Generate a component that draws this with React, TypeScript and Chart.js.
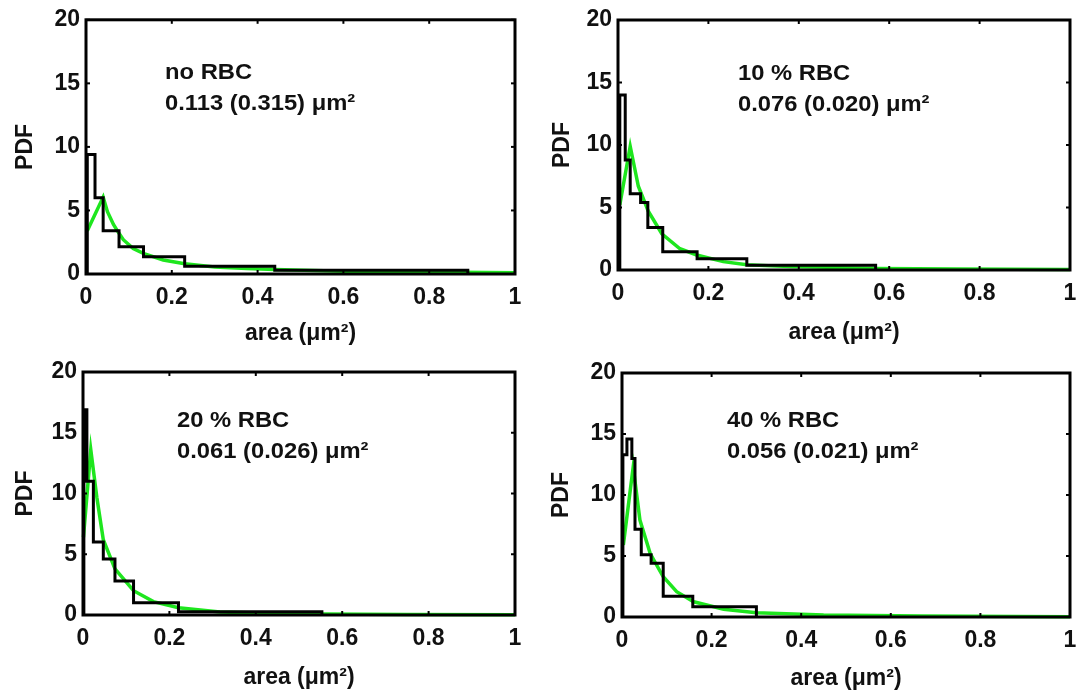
import React, { useEffect, useRef } from 'react';
import { Chart, registerables } from 'chart.js';

Chart.register(...registerables);

// ---------- data ----------
const X_TICKS = [0, 0.2, 0.4, 0.6, 0.8, 1];
const Y_TICKS = [0, 5, 10, 15, 20];

// no RBC
const P1_EDGES = [0.003, 0.021, 0.04, 0.077, 0.134, 0.23, 0.44, 0.89];
const P1_HEIGHTS = [9.4, 6.0, 3.4, 2.15, 1.35, 0.6, 0.3];
const P1_FIT_X = [0.003, 0.04, 0.05, 0.064, 0.075, 0.087, 0.11, 0.135, 0.18, 0.23, 0.3, 0.375, 0.44, 0.6, 0.74, 0.87, 1.0];
const P1_FIT_Y = [3.4, 6.05, 4.9, 3.9, 3.3, 2.7, 2.0, 1.6, 1.1, 0.8, 0.55, 0.43, 0.35, 0.22, 0.17, 0.13, 0.1];

// 10 % RBC
const P2_EDGES = [0.004, 0.016, 0.027, 0.05, 0.066, 0.099, 0.175, 0.285, 0.57];
const P2_HEIGHTS = [14.0, 8.8, 6.1, 5.4, 3.4, 1.47, 0.9, 0.38];
const P2_FIT_X = [0.004, 0.027, 0.045, 0.067, 0.097, 0.137, 0.174, 0.233, 0.285, 0.38, 0.57, 0.75, 1.0];
const P2_FIT_Y = [5.2, 9.9, 6.7, 4.7, 2.9, 1.7, 1.2, 0.67, 0.42, 0.27, 0.13, 0.08, 0.05];

// 20 % RBC
const P3_EDGES = [0.002, 0.009, 0.024, 0.047, 0.074, 0.117, 0.221, 0.553];
const P3_HEIGHTS = [16.9, 11.0, 6.0, 4.6, 2.8, 1.0, 0.27];
const P3_FIT_X = [0.001, 0.018, 0.032, 0.047, 0.074, 0.117, 0.163, 0.221, 0.317, 0.45, 0.553, 0.75, 1.0];
const P3_FIT_Y = [6.4, 13.6, 9.7, 6.2, 3.8, 2.0, 1.1, 0.6, 0.25, 0.12, 0.08, 0.04, 0.02];

// 40 % RBC
const P4_EDGES = [0.002, 0.011, 0.022, 0.029, 0.043, 0.065, 0.092, 0.158, 0.3];
const P4_HEIGHTS = [13.3, 14.6, 13.0, 7.2, 5.1, 4.4, 1.7, 0.85];
const P4_FIT_X = [0.003, 0.025, 0.04, 0.063, 0.092, 0.122, 0.16, 0.227, 0.3, 0.45, 0.67, 1.0];
const P4_FIT_Y = [5.9, 12.3, 7.95, 5.2, 3.3, 2.07, 1.25, 0.63, 0.35, 0.16, 0.08, 0.03];

const LABELS_1 = ['no RBC', '10 % RBC', '20 % RBC', '40 % RBC'];
const LABELS_2 = ['0.113 (0.315) \u03bcm\u00b2', '0.076 (0.020) \u03bcm\u00b2', '0.061 (0.026) \u03bcm\u00b2', '0.056 (0.021) \u03bcm\u00b2'];

// ---------- layout ----------
const PANELS = [
  { left: 0, top: 0, width: 540, height: 350, pl: 86, pr: 515, pt: 16, pb: 274, edges: P1_EDGES, heights: P1_HEIGHTS, fx: P1_FIT_X, fy: P1_FIT_Y, ytp: 12, xtp: 3, ax: 165, ay: 79 },
  { left: 540, top: 0, width: 570, height: 350, pl: 618, pr: 1070, pt: 20, pb: 270, edges: P2_EDGES, heights: P2_HEIGHTS, fx: P2_FIT_X, fy: P2_FIT_Y, ytp: 9, xtp: 4, ax: 738, ay: 80 },
  { left: 0, top: 350, width: 540, height: 344, pl: 83, pr: 515, pt: 372, pb: 615, edges: P3_EDGES, heights: P3_HEIGHTS, fx: P3_FIT_X, fy: P3_FIT_Y, ytp: 12, xtp: 3, ax: 177, ay: 427 },
  { left: 540, top: 350, width: 570, height: 344, pl: 622, pr: 1070, pt: 373, pb: 617, edges: P4_EDGES, heights: P4_HEIGHTS, fx: P4_FIT_X, fy: P4_FIT_Y, ytp: 8, xtp: 2, ax: 727, ay: 427 },
];

const FONT_FAMILY = '"Liberation Sans", Arial, Helvetica, sans-serif';
const TEXT = '#111111';
const GREEN = '#1ee61e';

const framePlugin = {
  id: 'frame',
  afterDatasetsDraw(chart: any, _args: any, opts: any) {
    const { ctx, chartArea: a, scales } = chart;
    ctx.save();
    ctx.strokeStyle = '#000';
    ctx.lineWidth = 3;
    ctx.strokeRect(a.left, a.top, a.right - a.left, a.bottom - a.top);
    ctx.lineWidth = 2;
    const tl = 4;
    const seg = (x1: number, y1: number, x2: number, y2: number) => {
      ctx.beginPath();
      ctx.moveTo(x1, y1);
      ctx.lineTo(x2, y2);
      ctx.stroke();
    };
    X_TICKS.forEach((v) => {
      const x = scales.x.getPixelForValue(v);
      seg(x, a.bottom, x, a.bottom - tl);
      seg(x, a.top, x, a.top + tl);
    });
    Y_TICKS.forEach((v) => {
      const y = scales.y.getPixelForValue(v);
      seg(a.left, y, a.left + tl, y);
      seg(a.right, y, a.right - tl, y);
    });
    // annotation text
    ctx.fillStyle = TEXT;
    ctx.font = 'bold 22px ' + FONT_FAMILY;
    ctx.textBaseline = 'alphabetic';
    ctx.textAlign = 'left';
    const drawLine = (t: string, x: number, y: number) => {
      ctx.save();
      ctx.translate(x, y);
      ctx.scale(1.08, 1);
      ctx.fillText(t, 0, 0);
      ctx.restore();
    };
    drawLine(opts.line1, opts.x, opts.y);
    drawLine(opts.line2, opts.x, opts.y + 31);
    ctx.restore();
  },
};

function Panel({ idx }: { idx: number }) {
  const ref = useRef<HTMLCanvasElement>(null);
  const p = PANELS[idx];
  useEffect(() => {
    if (!ref.current) return;
    const stairs: { x: number; y: number }[] = [{ x: p.edges[0], y: 0 }];
    p.heights.forEach((h, i) => stairs.push({ x: p.edges[i], y: h }));
    stairs.push({ x: p.edges[p.edges.length - 1], y: 0 });
    const fit = p.fx.map((x, i) => ({ x, y: p.fy[i] }));
    const font = { family: FONT_FAMILY, size: 23, weight: 'bold' as const };
    const chart = new Chart(ref.current, {
      type: 'line',
      data: {
        datasets: [
          { data: stairs, borderColor: '#000', borderWidth: 3, stepped: true, pointRadius: 0, fill: false, clip: 8 } as any,
          { data: fit, borderColor: GREEN, borderWidth: 3.5, pointRadius: 0, tension: 0, fill: false, clip: 8 } as any,
        ],
      },
      options: {
        animation: false,
        responsive: false,
        maintainAspectRatio: false,
        events: [],
        layout: {
          padding: { left: 0, top: p.pt - p.top, right: p.left + p.width - p.pr, bottom: 0 },
        },
        plugins: {
          legend: { display: false },
          tooltip: { enabled: false },
          frame: { line1: LABELS_1[idx], line2: LABELS_2[idx], x: p.ax - p.left, y: p.ay - p.top },
        } as any,
        scales: {
          x: {
            type: 'linear',
            min: 0,
            max: 1,
            afterFit: (s: any) => { s.height = p.top + p.height - p.pb; },
            grid: { display: false, drawTicks: false },
            border: { display: false },
            ticks: {
              stepSize: 0.2,
              padding: 10,
              color: TEXT,
              font,
              maxRotation: 0,
              callback: (v: any) => String(Math.round(Number(v) * 10) / 10),
            },
            title: { display: true, text: 'area (\u03bcm\u00b2)', color: TEXT, font, padding: { top: 0, bottom: p.xtp } },
          },
          y: {
            type: 'linear',
            min: 0,
            max: 20,
            afterFit: (s: any) => { s.width = p.pl - p.left; },
            grid: { display: false, drawTicks: false },
            border: { display: false },
            ticks: { stepSize: 5, padding: 6, color: TEXT, font },
            title: { display: true, text: 'PDF', color: TEXT, font, padding: { top: p.ytp, bottom: 0 } },
          },
        },
      },
      plugins: [framePlugin],
    });
    return () => chart.destroy();
  }, [idx]);
  return (
    <canvas
      ref={ref}
      width={p.width}
      height={p.height}
      style={{ position: 'absolute', left: p.left, top: p.top, width: p.width, height: p.height }}
    />
  );
}

export default function App() {
  return (
    <div style={{ position: 'absolute', left: 0, top: 0, width: 1076, height: 694, background: '#fff', overflow: 'hidden' }}>
      {PANELS.map((_, i) => (
        <Panel key={i} idx={i} />
      ))}
    </div>
  );
}
